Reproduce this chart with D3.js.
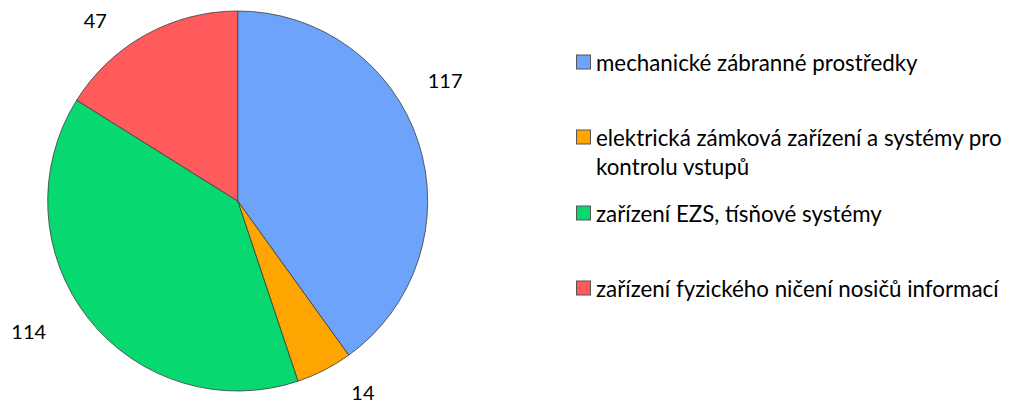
<!DOCTYPE html>
<html>
<head>
<meta charset="utf-8">
<script src="https://cdn.jsdelivr.net/npm/d3@7"></script>
<style>
  body { margin: 0; background: #fff; }
  svg { display: block; }
  text { font-family: Lato, "Open Sans", sans-serif; fill: #000; }
</style>
</head>
<body>
<div id="chart"></div>
<script>
const categories = [
  'mechanické zábranné prostředky',
  'elektrická zámková zařízení a systémy pro kontrolu vstupů',
  'zařízení EZS, tísňové systémy',
  'zařízení fyzického ničení nosičů informací'
];
const values = [117, 14, 114, 47];
const colors = ['#6ea3fc', '#ffa502', '#08d870', '#ff5a5c'];
// legend text split into lines as in the picture
const legendLines = [
  ['mechanické zábranné prostředky'],
  ['elektrická zámková zařízení a systémy pro', 'kontrolu vstupů'],
  ['zařízení EZS, tísňové systémy'],
  ['zařízení fyzického ničení nosičů informací']
];
// label placement tweaks (degrees off mid angle, distance from centre)
const labelShift = [-12.3, -6.2, 6.4, -9.3];
const labelDist = [240, 228, 246, 230];

const width = 1010;
const height = 406;
const cx = 237.7, cy = 201, radius = 190;

const svg = d3.select('#chart')
  .append('svg')
  .attr('width', width)
  .attr('height', height);

const pie = d3.pie().sort(null).value((d) => d);
const arcs = pie(values);
const arc = d3.arc().innerRadius(0).outerRadius(radius);

const g = svg.append('g').attr('transform', `translate(${cx},${cy})`);

g.selectAll('path')
  .data(arcs)
  .join('path')
  .attr('d', arc)
  .attr('fill', (d, i) => colors[i])
  .attr('stroke', '#3c3c3c')
  .attr('stroke-width', 0.8)
  .attr('stroke-linejoin', 'round');

const labelPos = (d, i) => {
  const a = (d.startAngle + d.endAngle) / 2 + labelShift[i] * Math.PI / 180;
  return [Math.sin(a) * labelDist[i], -Math.cos(a) * labelDist[i]];
};

g.selectAll('text.lbl')
  .data(arcs)
  .join('text')
  .attr('class', 'lbl')
  .attr('x', (d, i) => labelPos(d, i)[0])
  .attr('y', (d, i) => labelPos(d, i)[1])
  .attr('text-anchor', 'middle')
  .attr('dominant-baseline', 'central')
  .style('font-size', '20px')
  .text((d) => d.data);

// legend
const legendY = [62, 137, 213, 288];
const lineGap = 29;
const legend = svg.append('g');

const items = legend.selectAll('g')
  .data(categories)
  .join('g')
  .attr('transform', (d, i) => `translate(576,${legendY[i]})`);

items.append('rect')
  .attr('x', 0.5)
  .attr('y', -7)
  .attr('width', 14)
  .attr('height', 14)
  .attr('fill', (d, i) => colors[i])
  .attr('stroke', '#555')
  .attr('stroke-width', 1);

const texts = items.append('text')
  .attr('x', 20)
  .attr('dominant-baseline', 'central')
  .style('font-size', '18px');

texts.selectAll('tspan')
  .data((d, i) => legendLines[i])
  .join('tspan')
  .attr('x', 20)
  .attr('y', (d, j) => j * lineGap)
  .text((d) => d);

// fit font size so the widest legend line matches the picture (~406px)
let widest = 0;
texts.selectAll('tspan').each(function () {
  widest = Math.max(widest, this.getComputedTextLength());
});
const fs = 18 * 406 / widest;
texts.style('font-size', fs + 'px');
</script>
</body>
</html>
